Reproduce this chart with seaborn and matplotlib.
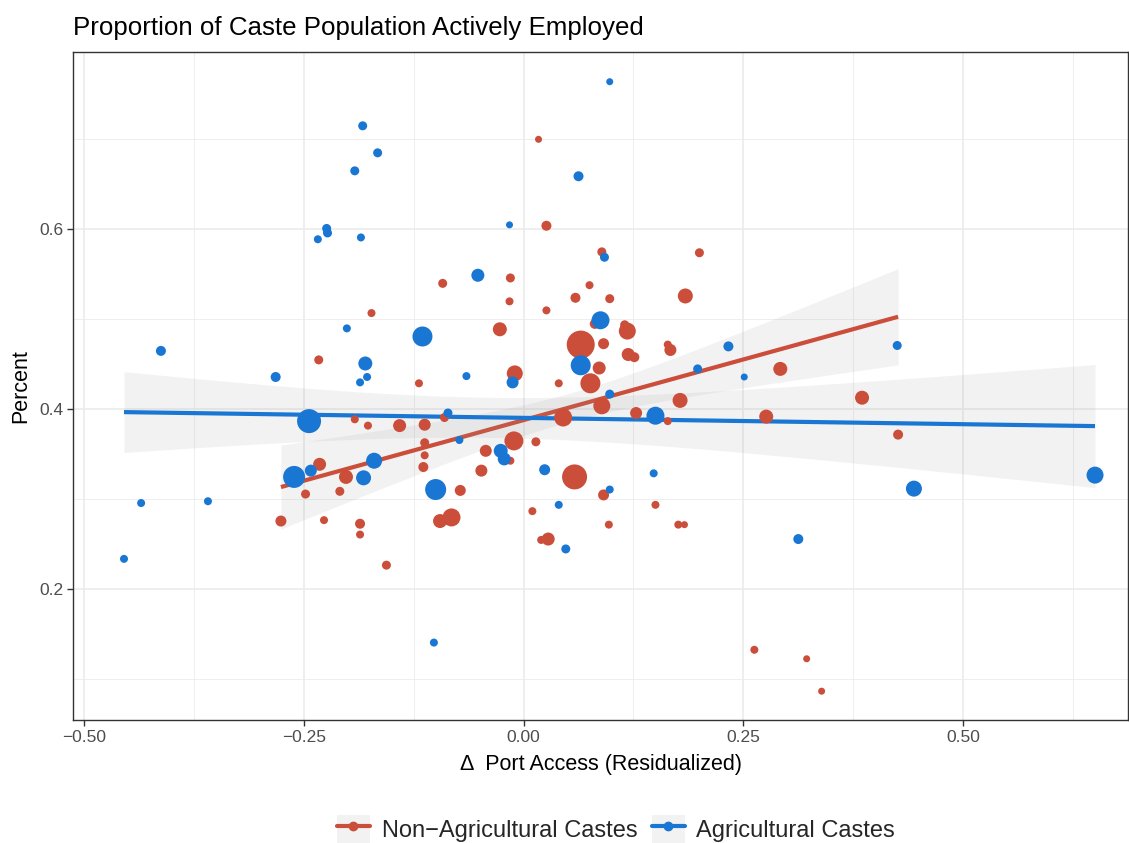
import numpy as np
import pandas as pd
import matplotlib
matplotlib.use("Agg")
import matplotlib.pyplot as plt
import seaborn as sns
from matplotlib.patches import Patch
from matplotlib.lines import Line2D
from matplotlib.legend_handler import HandlerTuple
from matplotlib.ticker import FixedLocator

# ---------------- data ----------------
nonag_x = [0.017, 0.026, 0.089, 0.200, -0.092, -0.015, -0.016, 0.026, 0.075, 0.059,
           0.098, -0.173, -0.027, 0.081, 0.065, 0.118, 0.115, 0.091, 0.119, 0.126,
           0.164, 0.167, 0.086, 0.184, -0.010, 0.292, -0.233, -0.119, 0.040, 0.076,
           0.089, -0.090, -0.141, -0.1125, 0.045, 0.128, 0.164, -0.1125, -0.011, 0.014,
           -0.1125, -0.043, -0.015, -0.114, -0.048, 0.058, -0.072, 0.091, -0.095, -0.082,
           0.010, 0.150, 0.097, 0.020, 0.028, -0.156, -0.192, -0.177, -0.232, -0.202,
           -0.248, -0.209, -0.276, -0.227, -0.186, -0.186, 0.178, 0.385, 0.276, 0.426,
           0.176, 0.183, 0.2625, 0.322, 0.339]
nonag_y = [0.700, 0.604, 0.575, 0.574, 0.540, 0.546, 0.520, 0.510, 0.538, 0.524,
           0.523, 0.507, 0.489, 0.495, 0.472, 0.487, 0.494, 0.473, 0.461, 0.458,
           0.472, 0.466, 0.446, 0.526, 0.440, 0.445, 0.455, 0.429, 0.429, 0.429,
           0.404, 0.391, 0.382, 0.383, 0.391, 0.396, 0.387, 0.363, 0.365, 0.364,
           0.349, 0.354, 0.343, 0.336, 0.332, 0.325, 0.310, 0.305, 0.276, 0.280,
           0.287, 0.294, 0.272, 0.255, 0.256, 0.227, 0.389, 0.382, 0.339, 0.325,
           0.306, 0.309, 0.276, 0.277, 0.273, 0.261, 0.410, 0.413, 0.392, 0.372,
           0.272, 0.272, 0.133, 0.123, 0.087]
# caste population (thousands), used for point size and regression weight
nonag_pop = [1, 10, 5, 5, 5, 5, 2, 2, 2, 10,
             5, 2, 50, 10, 442, 101, 5, 17, 37, 10,
             2, 26, 37, 65, 82, 50, 5, 2, 2, 170,
             101, 5, 37, 26, 122, 26, 2, 5, 145, 5,
             2, 26, 2, 10, 26, 325, 17, 17, 50, 122,
             2, 2, 2, 2, 37, 5, 2, 2, 37, 50,
             5, 5, 17, 2, 10, 2, 65, 50, 50, 10,
             2, 1, 2, 1, 1]

ag_x = [0.098, -0.183, -0.166, -0.192, 0.0625, -0.224, -0.223, -0.234, -0.185, -0.016,
        0.092, -0.052, -0.201, -0.4125, 0.0875, -0.115, -0.180, -0.282, -0.186, -0.178,
        0.065, -0.065, -0.0125, 0.098, -0.086, -0.244, 0.150, 0.233, 0.198, 0.251,
        0.425, -0.073, -0.026, -0.022, 0.024, -0.242, -0.261, -0.182, -0.170, -0.100,
        0.148, 0.098, 0.040, -0.435, -0.359, -0.4545, 0.048, -0.102, 0.444, 0.650,
        0.3125]
ag_y = [0.764, 0.715, 0.685, 0.665, 0.659, 0.601, 0.596, 0.589, 0.591, 0.605,
        0.569, 0.549, 0.490, 0.465, 0.499, 0.481, 0.451, 0.436, 0.430, 0.436,
        0.449, 0.437, 0.430, 0.417, 0.396, 0.387, 0.393, 0.470, 0.445, 0.436,
        0.471, 0.366, 0.354, 0.345, 0.333, 0.332, 0.325, 0.324, 0.343, 0.311,
        0.329, 0.311, 0.294, 0.296, 0.298, 0.234, 0.245, 0.141, 0.312, 0.327,
        0.256]
ag_pop = [1, 5, 5, 5, 10, 5, 5, 2, 2, 1,
          5, 37, 2, 10, 122, 170, 50, 10, 2, 2,
          170, 2, 26, 5, 5, 290, 122, 10, 5, 1,
          5, 2, 50, 37, 17, 26, 226, 65, 82, 197,
          2, 2, 2, 2, 2, 2, 5, 2, 82, 101,
          10]

groups = ["Non\u2212Agricultural Castes", "Agricultural Castes"]
colors = {"Non\u2212Agricultural Castes": "#CB4E3A", "Agricultural Castes": "#1976D2"}

x_ticks = [-0.50, -0.25, 0.00, 0.25, 0.50]
x_tick_labels = ["\u22120.50", "\u22120.25", "0.00", "0.25", "0.50"]
y_ticks = [0.2, 0.4, 0.6]
y_tick_labels = ["0.2", "0.4", "0.6"]

df = pd.DataFrame({
    "x": nonag_x + ag_x,
    "y": nonag_y + ag_y,
    "pop": nonag_pop + ag_pop,
    "group": [groups[0]] * len(nonag_x) + [groups[1]] * len(ag_x),
})

# ---------------- figure ----------------
sns.set_theme(style="white")
plt.rcParams["font.family"] = ["Liberation Sans", "DejaVu Sans"]

W, H = 1129, 843
fig = plt.figure(figsize=(W / 100, H / 100), dpi=100)
ax = fig.add_axes([73 / W, 1 - 720 / H, (1128 - 73) / W, (720 - 52) / H])
ax.set_facecolor("white")

ax.set_xlim(-0.5125, 0.6875)
ax.set_ylim(0.055, 0.797)

# grid
for v in [-0.375, -0.125, 0.125, 0.375, 0.625]:
    ax.axvline(v, color="#EBEBEB", lw=0.6, zorder=0)
for v in [0.1, 0.3, 0.5, 0.7]:
    ax.axhline(v, color="#EBEBEB", lw=0.6, zorder=0)
for v in x_ticks:
    ax.axvline(v, color="#EBEBEB", lw=1.2, zorder=0)
for v in y_ticks:
    ax.axhline(v, color="#EBEBEB", lw=1.2, zorder=0)


def fit_band(x, y, w, n=100):
    x = np.asarray(x, float)
    y = np.asarray(y, float)
    w = np.asarray(w, float)
    X = np.column_stack([np.ones_like(x), x])
    XtW = X.T * w
    A = np.linalg.inv(XtW @ X)
    beta = A @ (XtW @ y)
    r = y - X @ beta
    s2 = np.sum(w * r ** 2) / (len(x) - 2)
    xs = np.linspace(x.min(), x.max(), n)
    Xs = np.column_stack([np.ones_like(xs), xs])
    pred = Xs @ beta
    se = np.sqrt(s2 * np.einsum("ij,jk,ik->i", Xs, A, Xs))
    t = 2.0
    return xs, pred, pred - t * se, pred + t * se


z = 2.0
for g in groups:
    sub = df[df.group == g]
    xs, pred, lo, hi = fit_band(sub.x, sub.y, sub["pop"])
    ax.fill_between(xs, lo, hi, color="#999999", alpha=0.12, lw=0, zorder=z)
    ax.plot(xs, pred, color=colors[g], lw=3.0, zorder=z + 0.1, solid_capstyle="butt")
    z += 0.2

# ggplot-like area scale: diameter grows with sqrt of rescaled population
px = 0.72
vmin, vmax = df["pop"].min(), df["pop"].max()
size_map = {v: (px * (7 + 21 * np.sqrt((v - vmin) / (vmax - vmin)))) ** 2
            for v in sorted(df["pop"].unique())}
sns.scatterplot(data=df, x="x", y="y", hue="group", palette=colors, size="pop",
                sizes=size_map, linewidth=0, alpha=1, legend=False, ax=ax, zorder=4)

ax.xaxis.set_major_locator(FixedLocator(x_ticks))
ax.set_xticklabels(x_tick_labels)
ax.yaxis.set_major_locator(FixedLocator(y_ticks))
ax.set_yticklabels(y_tick_labels)
ax.tick_params(axis="both", which="major", direction="out", length=4, width=1,
               color="#333333", labelcolor="#4D4D4D", labelsize=12.5, pad=3,
               bottom=True, left=True)

for sp in ax.spines.values():
    sp.set_color("#333333")
    sp.set_linewidth(1.0)
    sp.set_zorder(6)

ax.set_xlabel("\u0394  Port Access (Residualized)", fontsize=15.5, color="black", labelpad=7)
ax.set_ylabel("Percent", fontsize=15.5, color="black", labelpad=6)
ax.set_title("Proportion of Caste Population Actively Employed", loc="left",
             fontsize=18.6, color="black", pad=12)

handles = []
for g in groups:
    bg = Patch(facecolor="#F2F2F2", edgecolor="none")
    ln = Line2D([0], [0], color=colors[g], lw=3, marker="o", markersize=6)
    handles.append((bg, ln))
fig.legend(handles, groups, handler_map={tuple: HandlerTuple(ndivide=1, pad=0)},
           loc="center", bbox_to_anchor=(616 / W, 1 - 829 / H), ncol=2, frameon=False,
           fontsize=17, handlelength=1.4, handleheight=1.4, handletextpad=0.5,
           columnspacing=0.6)

fig.savefig("out.png", dpi=100)
